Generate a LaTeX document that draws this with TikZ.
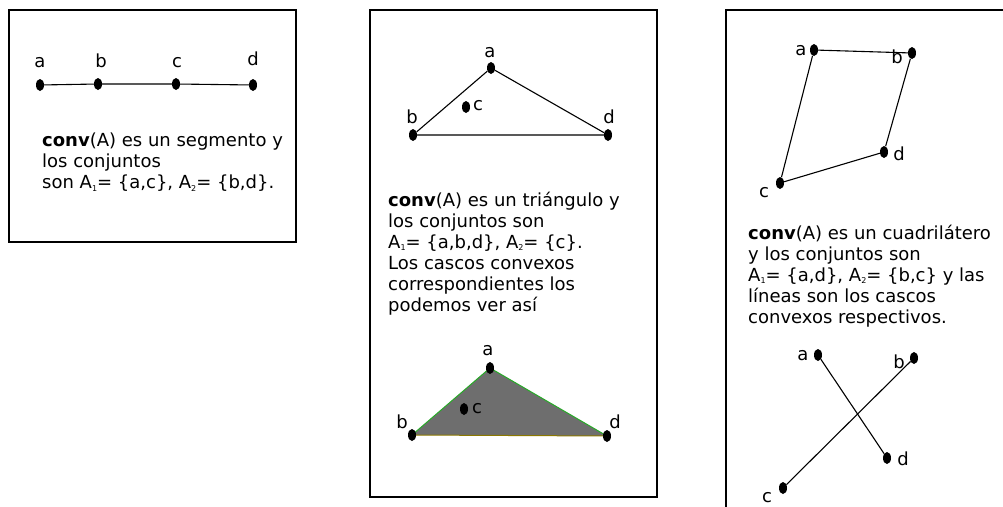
\documentclass[tikz,border=0pt]{standalone}
\usepackage{fontspec}
\setmainfont{DejaVu Sans}
\usetikzlibrary{shapes.geometric}
\definecolor{hullgray}{RGB}{110,110,110}
\definecolor{hullgreen}{RGB}{40,170,40}
\definecolor{hullolive}{RGB}{140,120,0}
\newcommand\subidx[1]{\raisebox{-0.12em}{\fontsize{8}{8}\selectfont #1}}

\begin{document}
\begin{tikzpicture}[x=1pt, y=-1pt,
    panel/.style={line width=1.3pt},
    edge/.style={line width=1.1pt},
    dot/.style={ellipse, fill=black, inner sep=0pt, minimum width=8pt, minimum height=12pt},
    lbl/.style={anchor=base, inner sep=0pt, font=\fontsize{18}{21}\selectfont},
    txt/.style={anchor=north west, inner sep=0pt, align=left, font=\fontsize{18}{21}\selectfont}]
    \useasboundingbox (0,0) rectangle (1003,506);
    % --- panel 1: segment ---
    \draw[panel] (9,10) rectangle (296,242);
    \node[dot] (p1a) at (40,85) {};
    \node[dot] (p1b) at (98,84) {};
    \node[dot] (p1c) at (176,84) {};
    \node[dot] (p1d) at (253,85) {};
    \draw[edge] (p1a) -- (p1b) -- (p1c) -- (p1d);
    \node[lbl] (l1a) at (40,67) {a};
    \node[lbl] (l1b) at (101,67) {b};
    \node[lbl] (l1c) at (177,67) {c};
    \node[lbl] (l1d) at (253,65) {d};
    \node[txt] (t1) at (42,133) {\textbf{conv}(A) es un segmento y\\los conjuntos\\son A\subidx{1}= \{a,c\}, A\subidx{2}= \{b,d\}.};
    % --- panel 2: triangle ---
    \draw[panel] (370,10) rectangle (657,497);
    \node[dot] (p2a) at (491,68) {};
    \node[dot] (p2b) at (413,135) {};
    \node[dot] (p2c) at (466,107) {};
    \node[dot] (p2d) at (608,135) {};
    \draw[edge] (p2a) -- (p2b) -- (p2d) -- (p2a);
    \node[lbl] (l2a) at (490,57) {a};
    \node[lbl] (l2b) at (412,123) {b};
    \node[lbl] (l2c) at (478,110) {c};
    \node[lbl] (l2d) at (609,123) {d};
    \node[txt] (t2) at (388,192) {\textbf{conv}(A) es un triángulo y\\los conjuntos son\\A\subidx{1}= \{a,b,d\}, A\subidx{2}= \{c\}.\\Los cascos convexos\\correspondientes los\\podemos ver así};
    % --- panel 2: filled hull ---
    \coordinate (h2a) at (490,368);
    \coordinate (h2b) at (412,435);
    \coordinate (h2d) at (607,436);
    \fill[hullgray] (h2a) -- (h2b) -- (h2d) -- cycle;
    \draw[hullgreen, line width=1pt] (h2b) -- (h2a) -- (h2d);
    \draw[hullolive, line width=1pt] (h2b) -- (h2d);
    \node[dot] (q2a) at (h2a) {};
    \node[dot] (q2b) at (h2b) {};
    \node[dot] (q2c) at (464,409) {};
    \node[dot] (q2d) at (h2d) {};
    \node[lbl] (m2a) at (488,355) {a};
    \node[lbl] (m2b) at (402,428) {b};
    \node[lbl] (m2c) at (477,413) {c};
    \node[lbl] (m2d) at (615,428) {d};
    % --- panel 3: quadrilateral ---
    \draw[panel] (1010,10) -- (726,10) -- (726,515);
    \node[dot] (p3a) at (814,50) {};
    \node[dot] (p3b) at (912,53) {};
    \node[dot] (p3c) at (780,183) {};
    \node[dot] (p3d) at (884,152) {};
    \draw[edge] (p3a) -- (p3b) -- (p3d) -- (p3c) -- (p3a);
    \node[lbl] (l3a) at (801,55) {a};
    \node[lbl] (l3b) at (897,63) {b};
    \node[lbl] (l3c) at (764,197) {c};
    \node[lbl] (l3d) at (899,160) {d};
    \node[txt] (t3) at (748,225) {\textbf{conv}(A) es un cuadrilátero\\y los conjuntos son\\A\subidx{1}= \{a,d\}, A\subidx{2}= \{b,c\} y las\\líneas son los cascos\\convexos respectivos.};
    % --- panel 3: the two segments ---
    \node[dot] (q3a) at (818,355) {};
    \node[dot] (q3b) at (914,358) {};
    \node[dot] (q3c) at (783,488) {};
    \node[dot] (q3d) at (887,458) {};
    \draw[edge] (q3a) -- (q3d);
    \draw[edge] (q3b) -- (q3c);
    \node[lbl] (m3a) at (803,360) {a};
    \node[lbl] (m3b) at (899,368) {b};
    \node[lbl] (m3c) at (767,502) {c};
    \node[lbl] (m3d) at (903,465) {d};
\end{tikzpicture}
\end{document}
